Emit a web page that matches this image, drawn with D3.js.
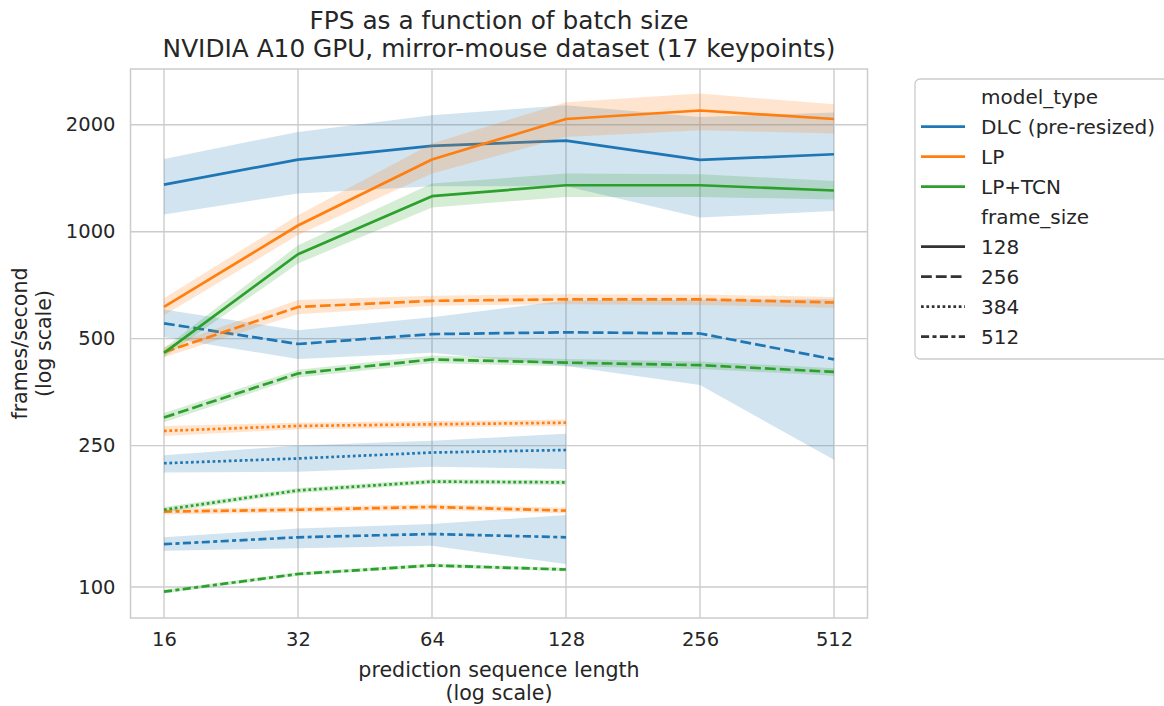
<!DOCTYPE html>
<html>
<head>
<meta charset="utf-8">
<script src="https://cdn.jsdelivr.net/npm/d3@7/dist/d3.min.js"></script>
<style>
  html, body { margin: 0; padding: 0; background: #fff; }
  svg text { font-family: "DejaVu Sans", sans-serif; fill: #262626; }
</style>
</head>
<body>
<svg id="chart" width="1164" height="706"></svg>
<script>
// ---------------- DATA ----------------
const seqLengths = [16, 32, 64, 128, 256, 512];
const seqShort = [16, 32, 64, 128];
const xTicks = [16, 32, 64, 128, 256, 512];
const yTicks = [100, 250, 500, 1000, 2000];
const modelTypes = ["DLC (pre-resized)", "LP", "LP+TCN"];
const frameSizes = ["128", "256", "384", "512"];

// DLC (pre-resized)
const dlc128 = [1357, 1596, 1743, 1805, 1592, 1652];
const dlc128Lo = [1118, 1281, 1343, 1343, 1096, 1144];
const dlc128Hi = [1603, 1909, 2127, 2269, 2103, 2164];
const dlc256 = [552, 483, 515, 521, 517, 437];
const dlc256Lo = [505, 438, 456, 419, 370, 228];
const dlc256Hi = [604, 528, 574, 640, 643, 645];
const dlc384 = [223, 230, 239, 243];
const dlc384Lo = [210, 211, 218, 215];
const dlc384Hi = [235, 250, 258, 270];
const dlc512 = [132, 138, 141, 138];
const dlc512Lo = [126.5, 128.5, 130.7, 116];
const dlc512Hi = [138, 146, 150.4, 159.4];

// LP
const lp128 = [614, 1041, 1596, 2076, 2193, 2076];
const lp128Lo = [582, 978, 1458, 1848, 1930, 1889];
const lp128Hi = [650, 1113, 1771, 2314, 2447, 2284];
const lp256 = [458, 614, 639, 645, 645, 632];
const lp256Lo = [443, 586, 619, 625, 622, 611];
const lp256Hi = [474, 642, 660, 667, 666, 655];
const lp384 = [275, 284, 287, 290];
const lp384Lo = [266, 278, 281, 284];
const lp384Hi = [284, 290, 293, 296];
const lp512 = [163, 165, 168, 164];
const lp512Lo = [160, 162, 165, 161];
const lp512Hi = [166, 168, 171, 167];

// LP+TCN
const tcn128 = [456, 864, 1259, 1351, 1351, 1306];
const tcn128Lo = [443, 814, 1170, 1253, 1253, 1232];
const tcn128Hi = [470, 916, 1366, 1458, 1451, 1390];
const tcn256 = [300, 399, 437, 428, 421, 403];
const tcn256Lo = [291, 389, 426, 418, 411, 393];
const tcn256Hi = [309, 409, 448, 438, 431, 413];
const tcn384 = [165, 187, 198, 197];
const tcn384Lo = [162, 184, 195, 194];
const tcn384Hi = [168, 190, 201, 200];
const tcn512 = [97, 108.8, 115, 112];
const tcn512Lo = [95.8, 107.5, 113.6, 110.7];
const tcn512Hi = [98.2, 110.1, 116.4, 113.3];

const colors = ["#1f77b4", "#ff7f0e", "#2ca02c"];

// ---------------- BUILD SERIES ----------------
const table = [
  [[seqLengths, dlc128, dlc128Lo, dlc128Hi], [seqLengths, dlc256, dlc256Lo, dlc256Hi], [seqShort, dlc384, dlc384Lo, dlc384Hi], [seqShort, dlc512, dlc512Lo, dlc512Hi]],
  [[seqLengths, lp128, lp128Lo, lp128Hi], [seqLengths, lp256, lp256Lo, lp256Hi], [seqShort, lp384, lp384Lo, lp384Hi], [seqShort, lp512, lp512Lo, lp512Hi]],
  [[seqLengths, tcn128, tcn128Lo, tcn128Hi], [seqLengths, tcn256, tcn256Lo, tcn256Hi], [seqShort, tcn384, tcn384Lo, tcn384Hi], [seqShort, tcn512, tcn512Lo, tcn512Hi]]
];

// ---------------- LAYOUT ----------------
const LW = 2.7;
const dashes = ["", `${4*LW},${1.5*LW}`, `${1*LW},${1*LW}`, `${3*LW},${1.25*LW},${1.5*LW},${1.25*LW}`];
const plot = { left: 130.5, right: 867.5, top: 69, bottom: 618 };

const svg = d3.select("#chart");
const x = d3.scaleLog().base(2).domain([Math.pow(2, 3.75), Math.pow(2, 9.25)]).range([plot.left, plot.right]);
const y = d3.scaleLog().domain([81.8, 2870]).range([plot.bottom, plot.top]);

// grid
const grid = svg.append("g");
grid.selectAll("line.gx").data(xTicks).join("line")
  .attr("x1", d => x(d)).attr("x2", d => x(d))
  .attr("y1", plot.top).attr("y2", plot.bottom)
  .attr("stroke", "#cccccc").attr("stroke-width", 1.4);
grid.selectAll("line.gy").data(yTicks).join("line")
  .attr("y1", d => y(d)).attr("y2", d => y(d))
  .attr("x1", plot.left).attr("x2", plot.right)
  .attr("stroke", "#cccccc").attr("stroke-width", 1.4);

// data
const gData = svg.append("g");
const lineGen = d3.line().x(d => x(d[0])).y(d => y(d[1]));
const areaGen = d3.area().x(d => x(d[0])).y0(d => y(d[1])).y1(d => y(d[2]));

table.forEach((group, mi) => {
  group.forEach((s, fi) => {
    const [xs, ys, lo, hi] = s;
    const pts = xs.map((xv, i) => [xv, ys[i]]);
    const band = xs.map((xv, i) => [xv, lo[i], hi[i]]);
    gData.append("path").attr("d", lineGen(pts))
      .attr("fill", "none").attr("stroke", colors[mi])
      .attr("stroke-width", LW)
      .attr("stroke-linejoin", "round")
      .attr("stroke-dasharray", dashes[fi] || null);
    gData.append("path").attr("d", areaGen(band))
      .attr("fill", colors[mi]).attr("fill-opacity", 0.2).attr("stroke", "none");
  });
});

// frame
svg.append("rect").attr("x", plot.left).attr("y", plot.top)
  .attr("width", plot.right - plot.left).attr("height", plot.bottom - plot.top)
  .attr("fill", "none").attr("stroke", "#cccccc").attr("stroke-width", 1.5);

// axes (tick labels via d3 axes)
const xAxis = d3.axisBottom(x).tickValues(xTicks).tickFormat(d3.format("d")).tickSize(0).tickPadding(14);
const gx = svg.append("g").attr("transform", `translate(0,${plot.bottom})`).call(xAxis);
gx.select(".domain").remove();
gx.selectAll("text").style("font-size", "19.5px").style("font-family", "DejaVu Sans").attr("fill", "#262626");

const yAxis = d3.axisLeft(y).tickValues(yTicks).tickFormat(d3.format("d")).tickSize(0).tickPadding(15);
const gy = svg.append("g").attr("transform", `translate(${plot.left},0)`).call(yAxis);
gy.select(".domain").remove();
gy.selectAll("text").style("font-size", "19.5px").style("font-family", "DejaVu Sans").attr("fill", "#262626");

// titles / labels
const cx = (plot.left + plot.right) / 2;
svg.append("text").attr("x", cx).attr("y", 29).attr("text-anchor", "middle")
  .style("font-size", "24.8px").text("FPS as a function of batch size");
svg.append("text").attr("x", cx).attr("y", 57).attr("text-anchor", "middle")
  .style("font-size", "24.8px").text("NVIDIA A10 GPU, mirror-mouse dataset (17 keypoints)");

svg.append("text").attr("x", cx).attr("y", 677).attr("text-anchor", "middle")
  .style("font-size", "20.6px").text("prediction sequence length");
svg.append("text").attr("x", cx).attr("y", 700).attr("text-anchor", "middle")
  .style("font-size", "20.6px").text("(log scale)");

const cy = (plot.top + plot.bottom) / 2;
svg.append("text").attr("transform", `translate(27,${cy}) rotate(-90)`).attr("text-anchor", "middle")
  .style("font-size", "20.6px").text("frames/second");
svg.append("text").attr("transform", `translate(51,${cy}) rotate(-90)`).attr("text-anchor", "middle")
  .style("font-size", "20.6px").text("(log scale)");

// legend
const leg = svg.append("g");
leg.append("rect").attr("x", 915).attr("y", 79).attr("width", 270).attr("height", 280)
  .attr("rx", 5).attr("fill", "#ffffff").attr("fill-opacity", 0.8)
  .attr("stroke", "#cccccc").attr("stroke-width", 1.3);
const legItems = [
  { label: "model_type", color: null, dash: null },
  ...modelTypes.map((m, i) => ({ label: m, color: colors[i], dash: "" })),
  { label: "frame_size", color: null, dash: null },
  ...frameSizes.map((f, i) => ({ label: f, color: "#333333", dash: dashes[i] }))
];
legItems.forEach((it, i) => {
  const yy = 96.7 + 30 * i;
  if (it.color) {
    leg.append("line").attr("x1", 921).attr("x2", 965).attr("y1", yy).attr("y2", yy)
      .attr("stroke", it.color).attr("stroke-width", LW)
      .attr("stroke-dasharray", it.dash || null);
  }
  leg.append("text").attr("x", 981).attr("y", yy).attr("dy", "0.35em")
    .style("font-size", "20px").text(it.label);
});
</script>
</body>
</html>
